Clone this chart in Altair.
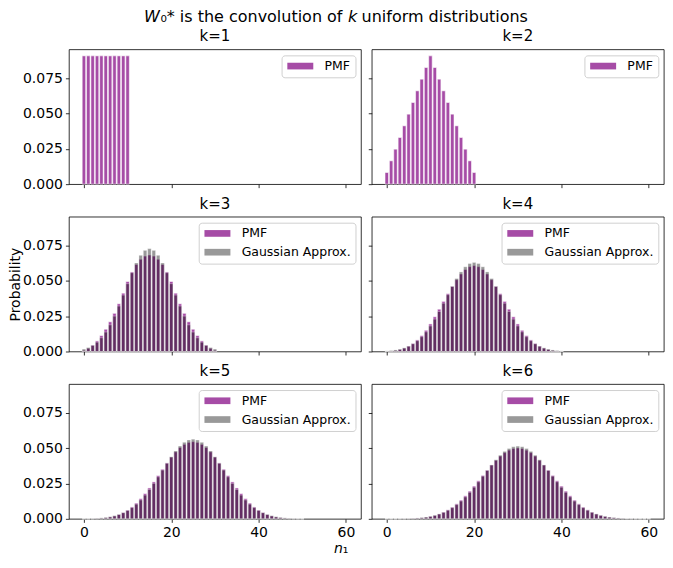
import altair as alt
import pandas as pd

# ---- data (probabilities per n1 value) ----
pmf_k1 = [0.0909, 0.0909, 0.0909, 0.0909, 0.0909, 0.0909, 0.0909, 0.0909, 0.0909, 0.0909, 0.0909]

pmf_k2 = [0.00826, 0.01653, 0.02479, 0.03306, 0.04132, 0.04959, 0.05785, 0.06612, 0.07438, 0.08264, 0.09091,
          0.08264, 0.07438, 0.06612, 0.05785, 0.04959, 0.04132, 0.03306, 0.02479, 0.01653, 0.00826]

pmf_k3 = [0.00075, 0.00225, 0.00451, 0.00751, 0.01127, 0.01578, 0.02104, 0.02705, 0.03381, 0.04132, 0.04959,
          0.05635, 0.06161, 0.06536, 0.06762, 0.06837, 0.06762, 0.06536, 0.06161, 0.05635, 0.04959,
          0.04132, 0.03381, 0.02705, 0.02104, 0.01578, 0.01127, 0.00751, 0.00451, 0.00225, 0.00075]
gauss_k3 = [0.00171, 0.00278, 0.00436, 0.00661, 0.00970, 0.01376, 0.01888, 0.02507, 0.03219, 0.03997, 0.04802,
            0.05579, 0.06269, 0.06814, 0.07163, 0.07284, 0.07163, 0.06814, 0.06269, 0.05579, 0.04802,
            0.03997, 0.03219, 0.02507, 0.01888, 0.01376, 0.00970, 0.00661, 0.00436, 0.00278, 0.00171]

pmf_k4 = [0.00007, 0.00027, 0.00068, 0.00137, 0.00239, 0.00382, 0.00574, 0.00820, 0.01127, 0.01503, 0.01953,
          0.02459, 0.02998, 0.03552, 0.04098, 0.04617, 0.05088, 0.05491, 0.05806, 0.06011, 0.06086,
          0.06011, 0.05806, 0.05491, 0.05088, 0.04617, 0.04098, 0.03552, 0.02998, 0.02459, 0.01953,
          0.01503, 0.01127, 0.00820, 0.00574, 0.00382, 0.00239, 0.00137, 0.00068, 0.00027, 0.00007]
gauss_k4 = [0.00043, 0.00069, 0.00110, 0.00170, 0.00257, 0.00379, 0.00544, 0.00763, 0.01043, 0.01390, 0.01807,
            0.02292, 0.02834, 0.03419, 0.04022, 0.04615, 0.05164, 0.05637, 0.06000, 0.06229, 0.06308,
            0.06229, 0.06000, 0.05637, 0.05164, 0.04615, 0.04022, 0.03419, 0.02834, 0.02292, 0.01807,
            0.01390, 0.01043, 0.00763, 0.00544, 0.00379, 0.00257, 0.00170, 0.00110, 0.00069, 0.00043]

pmf_k5 = [0.000006, 0.000031, 0.000093, 0.000217, 0.000435, 0.000782, 0.00130, 0.00205, 0.00307, 0.00444,
          0.00622, 0.00844, 0.01115, 0.01431, 0.01791, 0.02189, 0.02617, 0.03064, 0.03518, 0.03962,
          0.04378, 0.04747, 0.05051, 0.05278, 0.05418, 0.05465, 0.05418, 0.05278, 0.05051, 0.04747,
          0.04378, 0.03962, 0.03518, 0.03064, 0.02617, 0.02189, 0.01791, 0.01431, 0.01115, 0.00844,
          0.00622, 0.00444, 0.00307, 0.00205, 0.00130, 0.000782, 0.000435, 0.000217, 0.000093, 0.000031,
          0.000006]
gauss_k5 = [0.00011, 0.00018, 0.00028, 0.00045, 0.00069, 0.00103, 0.00153, 0.00221, 0.00314, 0.00436,
            0.00595, 0.00795, 0.01041, 0.01337, 0.01682, 0.02076, 0.02510, 0.02975, 0.03456, 0.03936,
            0.04394, 0.04808, 0.05156, 0.05421, 0.05586, 0.05642, 0.05586, 0.05421, 0.05156, 0.04808,
            0.04394, 0.03936, 0.03456, 0.02975, 0.02510, 0.02076, 0.01682, 0.01337, 0.01041, 0.00795,
            0.00595, 0.00436, 0.00314, 0.00221, 0.00153, 0.00103, 0.00069, 0.00045, 0.00028, 0.00018,
            0.00011]

pmf_k6 = [0.0000006, 0.0000034, 0.0000119, 0.0000316, 0.0000711, 0.000142, 0.000261, 0.000447, 0.000726, 0.00113,
          0.00170, 0.00246, 0.00347, 0.00477, 0.00637, 0.00832, 0.01063, 0.01330, 0.01631, 0.01963,
          0.02321, 0.02696, 0.03079, 0.03457, 0.03819, 0.04153, 0.04447, 0.04689, 0.04869, 0.04981,
          0.05019, 0.04981, 0.04869, 0.04689, 0.04447, 0.04153, 0.03819, 0.03457, 0.03079, 0.02696,
          0.02321, 0.01963, 0.01631, 0.01330, 0.01063, 0.00832, 0.00637, 0.00477, 0.00347, 0.00246,
          0.00170, 0.00113, 0.000726, 0.000447, 0.000261, 0.000142, 0.0000711, 0.0000316, 0.0000119, 0.0000034,
          0.0000006]
gauss_k6 = [0.000028, 0.000047, 0.000075, 0.000118, 0.00018, 0.00028, 0.00042, 0.00063, 0.00091, 0.00131,
            0.00184, 0.00254, 0.00346, 0.00463, 0.00610, 0.00790, 0.01006, 0.01260, 0.01551, 0.01879,
            0.02238, 0.02622, 0.03021, 0.03424, 0.03815, 0.04182, 0.04507, 0.04778, 0.04981, 0.05108,
            0.05150, 0.05108, 0.04981, 0.04778, 0.04507, 0.04182, 0.03815, 0.03424, 0.03021, 0.02622,
            0.02238, 0.01879, 0.01551, 0.01260, 0.01006, 0.00790, 0.00610, 0.00463, 0.00346, 0.00254,
            0.00184, 0.00131, 0.00091, 0.00063, 0.00042, 0.00028, 0.00018, 0.000118, 0.000075, 0.000047,
            0.000028]

k_values = [1, 2, 3, 4, 5, 6]
pmf_series = [pmf_k1, pmf_k2, pmf_k3, pmf_k4, pmf_k5, pmf_k6]
gauss_series = [None, None, gauss_k3, gauss_k4, gauss_k5, gauss_k6]

series_names = ["PMF", "Gaussian Approx."]
legend_colors = ["#a64ca6", "#999999"]
x_ticks = [0, 20, 40, 60]
y_ticks = [0.0, 0.025, 0.05, 0.075]

X_DOMAIN = [-3.44, 63.44]
Y_DOMAIN = [0, 0.0955]
W, H = 292.5, 135
FONT = "DejaVu Sans"


def make_panel(i, k, pmf, gauss):
    row, col = divmod(i, 2)
    bottom = row == 2
    left = col == 0

    xaxis_kw = dict(values=x_ticks, labels=bottom, format="d", labelFlush=False,
                    title=None)
    if i == 4:
        xaxis_kw.update(title="𝘯₁", titleX=272, titleY=30,
                        titleFontSize=14, titleFontWeight="normal", titleBaseline="middle",
                        titleAlign="center", titleColor="black")
    yaxis_kw = dict(values=y_ticks, labels=left, format=".3f", title=None)
    if i == 2:
        yaxis_kw.update(title="Probability", titleX=-53.5, titleY=67.5, titleAngle=270,
                        titleFontSize=14, titleFontWeight="normal", titleBaseline="middle",
                        titleAlign="center", titleColor="black")
    xaxis = alt.Axis(**xaxis_kw)
    yaxis = alt.Axis(**yaxis_kw)

    xs = alt.Scale(domain=X_DOMAIN, nice=False, zero=False)
    ys = alt.Scale(domain=Y_DOMAIN, nice=False, zero=True)

    df = pd.DataFrame({"n": list(range(len(pmf))), "p": pmf})
    pmf_bars = alt.Chart(df).transform_calculate(
        x0="datum.n - 0.4", x1="datum.n + 0.4"
    ).mark_bar(fill="#800080", fillOpacity=0.7, stroke="white", strokeOpacity=0.7,
               strokeWidth=0.8).encode(
        x=alt.X("x0:Q", scale=xs, axis=xaxis),
        x2="x1:Q",
        y=alt.Y("p:Q", scale=ys, axis=yaxis),
        y2=alt.datum(0),
    )
    layers = [pmf_bars]
    names = series_names[:1]
    if gauss is not None:
        dg = pd.DataFrame({"n": list(range(len(gauss))), "p": gauss})
        g_bars = alt.Chart(dg).transform_calculate(
            x0="datum.n - 0.4", x1="datum.n + 0.4"
        ).mark_bar(fill="black", fillOpacity=0.4, stroke="white", strokeOpacity=0.4,
                   strokeWidth=0.8).encode(
            x=alt.X("x0:Q", scale=xs, axis=xaxis),
            x2="x1:Q",
            y=alt.Y("p:Q", scale=ys, axis=yaxis),
            y2=alt.datum(0),
        )
        layers.append(g_bars)
        names = series_names
    leg_df = pd.DataFrame({"series": names})
    leg = alt.Chart(leg_df).mark_square(size=0, opacity=1).encode(
        color=alt.Color("series:N",
                        scale=alt.Scale(domain=names, range=legend_colors[:len(names)]),
                        legend=alt.Legend(title=None))
    )
    layers.append(leg)
    return alt.layer(*layers).properties(
        width=W, height=H,
        title=alt.TitleParams(f"k={k}", fontSize=15, font=FONT, fontWeight="normal",
                              color="black", anchor="middle", offset=-7, frame="group",
                              baseline="alphabetic"),
    )


panels = [make_panel(i, k, p, g) for i, (k, p, g) in enumerate(zip(k_values, pmf_series, gauss_series))]

chart = alt.ConcatChart(
    concat=panels, columns=2,
    spacing={"row": 32.6, "column": 10.3},
    bounds="flush",
).properties(
    title=alt.TitleParams("𝘞₀* is the convolution of 𝘬 uniform distributions", fontSize=16,
                          font=FONT, fontWeight="normal", color="black", anchor="middle",
                          offset=4),
    padding={"left": 0, "top": 0, "right": 0, "bottom": 0},
).resolve_scale(
    x="independent", y="independent", color="independent"
).resolve_legend(
    color="independent"
).configure(
    font=FONT,
).configure_view(
    stroke="black", strokeWidth=0.8,
).configure_axis(
    grid=False, domain=False, ticks=True, tickSize=3.5, tickWidth=0.8, tickColor="black",
    labelFont=FONT, labelFontSize=14, labelColor="black", labelPadding=3,
).configure_legend(
    orient="top-right", offset=6, padding=4.5, strokeColor="#d0d0d0", strokeWidth=1,
    fillColor="rgba(255,255,255,0.8)", cornerRadius=3,
    labelFont=FONT, labelFontSize=12.5, labelColor="black", labelOffset=26,
    symbolType="M-1,-0.67L4.2,-0.67L4.2,0.67L-1,0.67Z", symbolSize=100, symbolStrokeWidth=0,
    symbolOpacity=1, rowPadding=5.8,
)

chart.save("out.html", embed_options={"renderer": "svg", "actions": False})
